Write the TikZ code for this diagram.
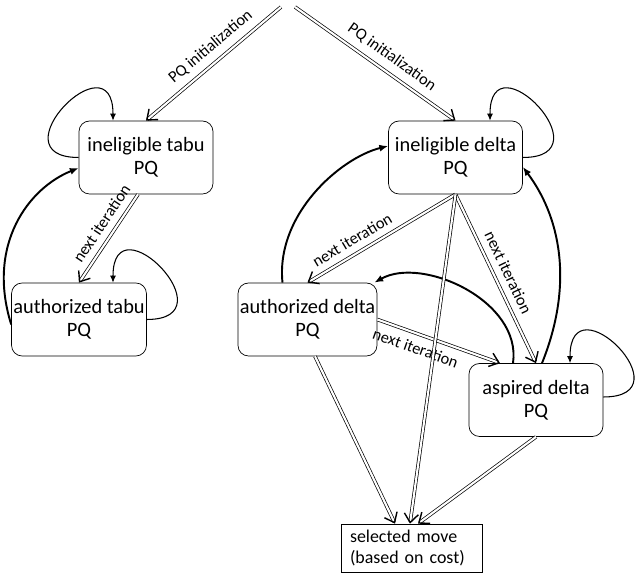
\documentclass[tikz,border=0pt]{standalone}
\usepackage{fontspec}
\setmainfont{Carlito}
\usetikzlibrary{arrows.meta}

\tikzset{
  pq/.style={draw, rounded corners=6pt, minimum width=2.68cm, minimum height=1.46cm,
    align=center, inner sep=1pt, font=\fontsize{11.6}{13}\selectfont},
  selbox/.style={draw, minimum height=0.96cm, text width=2.48cm, inner xsep=0.17cm,
    align=left, font=\fontsize{10.2}{12}\selectfont},
  dbl/.style={double, double distance=1.2pt, line width=0.4pt, -{Straight Barb[length=5pt,width=8pt,line width=0.8pt]}},
  selfloop/.style={line width=0.6pt, -{Latex[length=4pt,width=3.5pt]}},
  back/.style={line width=1.1pt, -{Latex[length=5pt,width=4pt]}},
  lbl/.style={font=\fontsize{9.3}{10}\selectfont, sloped, inner sep=4.5pt}
}

\begin{document}
\begin{tikzpicture}
\useasboundingbox (0,0) rectangle (12.7,11.5);

\coordinate (initL) at (5.62,11.36);
\coordinate (initR) at (5.90,11.36);

\node[pq] (itabu) at (2.92,8.35) {ineligible tabu\\PQ};
\node[pq] (atabu) at (1.58,5.11) {authorized tabu\\PQ};
\node[pq] (idelta) at (9.11,8.35) {ineligible delta\\PQ};
\node[pq] (adelta) at (6.15,5.11) {authorized delta\\PQ};
\node[pq] (aspired) at (10.72,3.50) {aspired delta\\PQ};
\node[selbox] (selmove) at (8.24,0.54) {selected move\\(based on cost)};

\draw[dbl] (initL) -- node[lbl,above,pos=.45]{PQ initialization} (itabu.north);
\draw[dbl] (initR) -- node[lbl,above,pos=.55]{PQ initialization} (idelta.north);

\draw[selfloop] (itabu.west) .. controls +(-1.7,0) and +(0,1.7) .. ([xshift=-0.66cm]itabu.north);
\draw[selfloop] (atabu.east) .. controls +(1.7,0) and +(0,1.7) .. ([xshift=0.68cm]atabu.north);
\draw[selfloop] (idelta.east) .. controls +(1.7,0) and +(0,1.7) .. ([xshift=0.69cm]idelta.north);
\draw[selfloop] ([yshift=0.06cm]aspired.east) .. controls +(1.7,0) and +(0,1.7) .. ([xshift=0.68cm]aspired.north);

\draw[dbl] ([xshift=-0.16cm]itabu.south) -- node[lbl,above,pos=.42]{next iteration} (atabu.north);
\draw[back] ([yshift=-0.1cm]atabu.west) .. controls +(-0.5,1.6) and +(-1.0,-0.4) .. ([yshift=-0.21cm]itabu.west);

\draw[dbl] (idelta.south) -- node[lbl,above,pos=.65]{next iteration} (adelta.north);
\draw[dbl] (idelta.south) -- node[lbl,above]{next iteration} (aspired.north);
\draw[dbl] (adelta.east) -- node[lbl,below,pos=.35]{next iteration} ([xshift=-0.72cm]aspired.north);

\draw[back] ([xshift=-0.5cm]adelta.north) .. controls +(-0.14,1.36) and +(-0.96,-0.24) .. ([yshift=0.23cm]idelta.west);
\draw[back] ([xshift=0.12cm]aspired.north) .. controls +(0.66,1.64) and +(0.72,-0.96) .. ([yshift=-0.19cm]idelta.east);
\draw[back] ([xshift=-0.46cm]aspired.north) .. controls +(0.18,1.24) and +(0.96,0.54) .. ([xshift=-0.06cm]adelta.north east);

\draw[dbl] ([xshift=0.15cm]adelta.south) -- ([xshift=-0.34cm]selmove.north);
\draw[dbl] (idelta.south) -- ([xshift=-0.04cm]selmove.north);
\draw[dbl] (aspired.south) -- ([xshift=0.12cm]selmove.north);
\end{tikzpicture}
\end{document}
